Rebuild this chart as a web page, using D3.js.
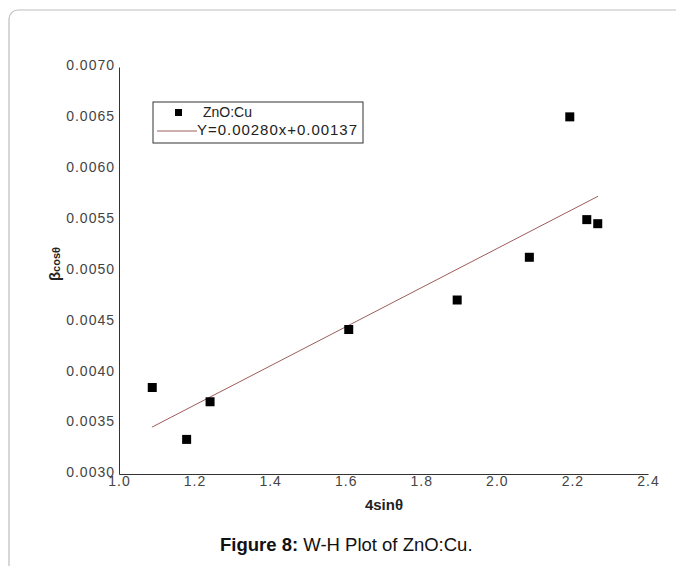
<!DOCTYPE html>
<html>
<head>
<meta charset="utf-8">
<script src="https://cdn.jsdelivr.net/npm/d3@7"></script>
<style>
  body { margin: 0; background: #fff; }
  svg { display: block; font-family: "Liberation Sans", Arial, sans-serif; }
</style>
</head>
<body>
<script>
// W-H plot data
const xVals = [1.088, 1.179, 1.241, 1.608, 1.895, 2.086, 2.193, 2.238, 2.267];
const yVals = [0.00385, 0.00334, 0.00371, 0.00442, 0.00471, 0.00513, 0.00651, 0.00550, 0.00546];
const fitX = [1.087, 2.268];
const fitY = [0.00346, 0.00573];
const xTicks = [1.0, 1.2, 1.4, 1.6, 1.8, 2.0, 2.2, 2.4];
const yTicks = [0.0030, 0.0035, 0.0040, 0.0045, 0.0050, 0.0055, 0.0060, 0.0065, 0.0070];
const legendLabels = ["ZnO:Cu", "Y=0.00280x+0.00137"];

const width = 676, height = 566;

const svg = d3.select("body").append("svg")
  .attr("width", width)
  .attr("height", height);

// outer frame (cut off on right and bottom)
svg.append("rect")
  .attr("x", 9).attr("y", 10)
  .attr("width", 720).attr("height", 600)
  .attr("rx", 9)
  .attr("fill", "none")
  .attr("stroke", "#bdbdbd")
  .attr("stroke-width", 1.2);

const x = d3.scaleLinear().domain([1.0, 2.4]).range([119, 648]);
const y = d3.scaleLinear().domain([0.0030, 0.0070]).range([474, 67]);

// axes
const yAxis = svg.append("g")
  .attr("transform", `translate(${x(1.0)},0)`)
  .call(d3.axisLeft(y).tickValues(yTicks).tickSize(0).tickPadding(4).tickFormat(d3.format(".4f")));
const xAxis = svg.append("g")
  .attr("transform", `translate(0,${y(0.0030)})`)
  .call(d3.axisBottom(x).tickValues(xTicks).tickSize(0).tickPadding(2).tickFormat(d3.format(".1f")));

[xAxis, yAxis].forEach(a => {
  a.select(".domain").attr("stroke", "#333").attr("stroke-width", 1);
  a.selectAll("text")
    .attr("fill", "#444")
    .style("font-size", "14px")
    .style("letter-spacing", "1px");
});
yAxis.selectAll("text").attr("dy", "0.2em");

// axis titles
svg.append("text")
  .attr("x", 384).attr("y", 510)
  .attr("text-anchor", "middle")
  .style("font-size", "15px")
  .style("font-weight", "bold")
  .attr("fill", "#222")
  .text("4sinθ");

const yt = svg.append("text")
  .attr("transform", "translate(60,264) rotate(-90)")
  .attr("text-anchor", "middle")
  .style("font-weight", "bold")
  .attr("fill", "#222");
yt.append("tspan").style("font-size", "15px").text("β");
yt.append("tspan").style("font-size", "11px").text("cosθ");

// fit line
svg.append("line")
  .attr("x1", x(fitX[0])).attr("y1", y(fitY[0]))
  .attr("x2", x(fitX[1])).attr("y2", y(fitY[1]))
  .attr("stroke", "#9e5c5c")
  .attr("stroke-width", 1);

// points
const pts = xVals.map((v, i) => ({ x: v, y: yVals[i] }));
svg.append("g").selectAll("rect")
  .data(pts)
  .enter().append("rect")
  .attr("x", d => x(d.x) - 4.5)
  .attr("y", d => y(d.y) - 4.5)
  .attr("width", 9).attr("height", 9)
  .attr("fill", "#000");

// legend
const lg = svg.append("g");
lg.append("rect")
  .attr("x", 153).attr("y", 102)
  .attr("width", 210).attr("height", 41)
  .attr("fill", "#fff")
  .attr("stroke", "#333");
lg.append("rect")
  .attr("x", 175).attr("y", 109)
  .attr("width", 7).attr("height", 7)
  .attr("fill", "#000");
lg.append("line")
  .attr("x1", 157).attr("x2", 197)
  .attr("y1", 131).attr("y2", 131)
  .attr("stroke", "#9e5c5c");
lg.append("text")
  .attr("x", 203).attr("y", 117)
  .style("font-size", "14px")
  .attr("fill", "#222")
  .text(legendLabels[0]);
lg.append("text")
  .attr("x", 197).attr("y", 135)
  .style("font-size", "15px")
  .attr("textLength", 160)
  .attr("fill", "#222")
  .text(legendLabels[1]);

// caption
const cap = svg.append("text")
  .attr("x", 220).attr("y", 551)
  .style("font-size", "18.5px")
  .attr("fill", "#111");
cap.append("tspan").style("font-weight", "bold").text("Figure 8:");
cap.append("tspan").text(" W-H Plot of ZnO:Cu.");
</script>
</body>
</html>
